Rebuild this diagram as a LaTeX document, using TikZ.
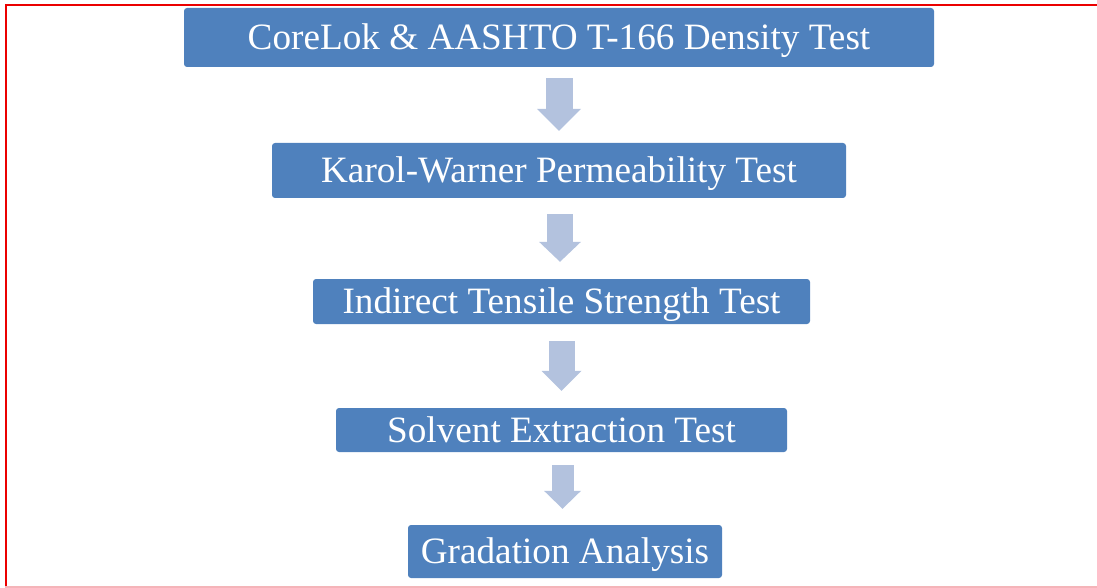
\documentclass[tikz,border=0pt]{standalone}
\usepackage{fontspec}
\setmainfont{Liberation Serif}
\usepackage{tikz}
\usetikzlibrary{arrows.meta}

\definecolor{boxblue}{HTML}{4F81BD}
\definecolor{arrowblue}{RGB}{179,194,222}
\definecolor{framered}{RGB}{235,0,0}
\definecolor{framepink}{RGB}{245,180,185}

\begin{document}
\begin{tikzpicture}[x=1pt, y=-1pt,
		stepbox/.style={fill=boxblue, rounded corners=3pt, inner sep=0pt, text=white,
			font=\fontsize{37.2}{40}\selectfont, text height=24.5pt, text depth=0pt},
		flowarrow/.style={draw=arrowblue, line width=26pt}]
			\useasboundingbox (0, 0) rectangle (1097, 588);

			\fill[framered] (4.5, 4.5) rectangle (1097, 6.5);
			\fill[framered] (4.5, 4.5) rectangle (6.5, 588);
			\fill[framepink] (4.5, 585.5) rectangle (1097, 587.5);

			\node[stepbox, minimum width=750pt, minimum height=59pt] (corelok) at (559, 37.5) {CoreLok \& AASHTO T-166 Density Test};
			\node[stepbox, minimum width=574pt, minimum height=55pt] (karol) at (559, 170.5) {Karol-Warner Permeability Test};
			\node[stepbox, minimum width=497pt, minimum height=45pt] (its) at (561.5, 301.5) {Indirect Tensile Strength Test};
			\node[stepbox, minimum width=451pt, minimum height=44pt] (solvent) at (561.5, 430) {Solvent Extraction Test};
			\node[stepbox, minimum width=314pt, minimum height=53pt] (gradation) at (565, 551.5) {Gradation Analysis};

			\draw[flowarrow, line width=27pt, -{Triangle[width=44pt, length=22pt, line width=0pt]}, shorten <=11pt, shorten >=12pt] (corelok.south) -- (corelok.south |- karol.north);
			\draw[flowarrow, -{Triangle[width=42pt, length=20pt, line width=0pt]}, shorten <=16pt, shorten >=17pt] ([xshift=1pt]karol.south) -- ([xshift=1pt]karol.south |- its.north);
			\draw[flowarrow, -{Triangle[width=40pt, length=20pt, line width=0pt]}, shorten <=17pt, shorten >=17pt] (its.south) -- (its.south |- solvent.north);
			\draw[flowarrow, line width=22pt, -{Triangle[width=37pt, length=18pt, line width=0pt]}, shorten <=13pt, shorten >=16pt] ([xshift=1pt]solvent.south) -- ([xshift=1pt]solvent.south |- gradation.north);
		\end{tikzpicture}
\end{document}
